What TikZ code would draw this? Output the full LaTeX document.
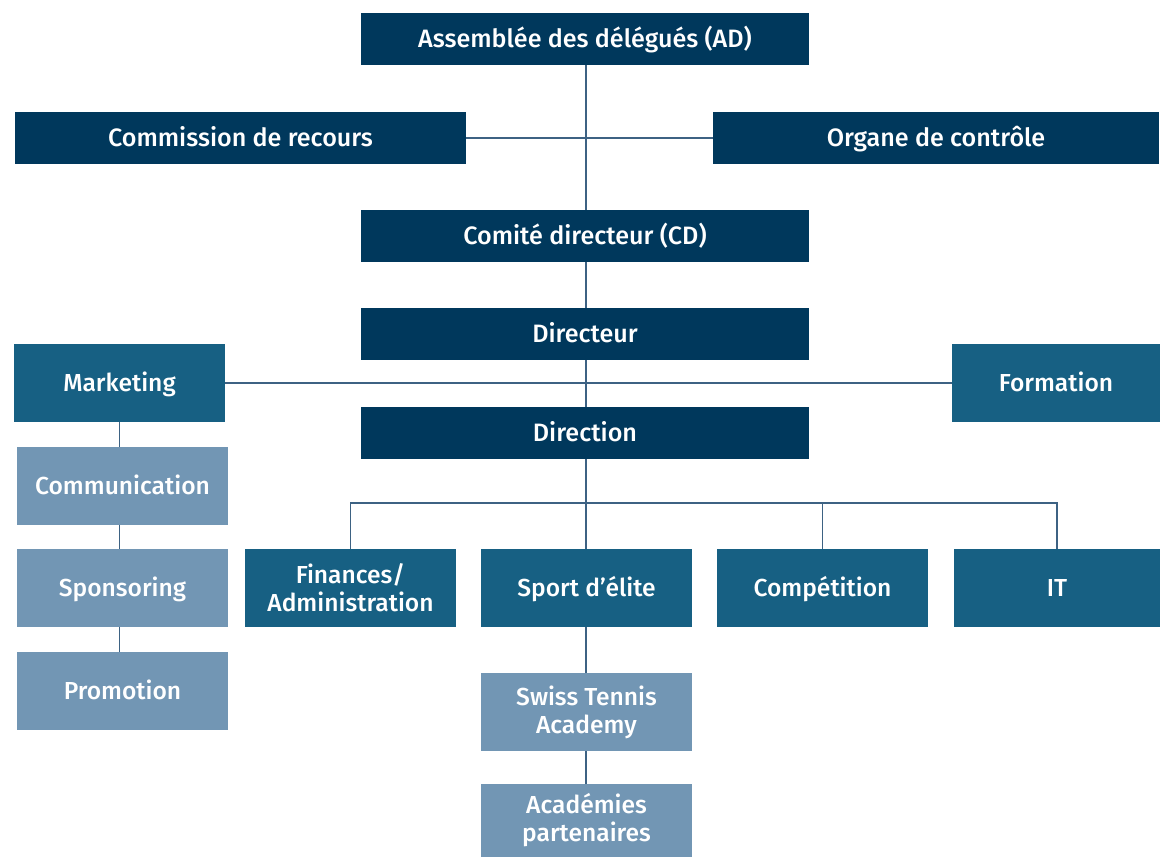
\documentclass[tikz,border=0pt]{standalone}
\usepackage{fontspec}
\setmainfont{Fira Sans}[BoldFont={Fira Sans Medium}]
\usepackage{tikz}
\usetikzlibrary{positioning,calc}
\definecolor{navy}{HTML}{00385C}
\definecolor{deepteal}{HTML}{176083}
\definecolor{softblue}{HTML}{7296B4}
\definecolor{linkgrey}{HTML}{3D6283}
\tikzset{
  topbox/.style  = {fill=navy, text=white, align=center, inner sep=2pt,
                    minimum width=8.96cm, minimum height=1.04cm, font=\fontsize{14.3}{16}\selectfont\bfseries,
                    text height=12pt, text depth=2.2pt},
  unitbox/.style = {fill=deepteal, text=white, align=center, inner sep=2pt,
                    minimum width=4.22cm, minimum height=1.56cm, font=\fontsize{14}{16}\selectfont\bfseries},
  subbox/.style  = {fill=softblue, text=white, align=center, inner sep=2pt,
                    minimum width=4.22cm, minimum height=1.56cm, font=\fontsize{14}{16}\selectfont\bfseries},
  oneline/.style = {text height=12pt, text depth=2.2pt},
  link/.style    = {draw=linkgrey, line width=0.8pt},
}
\begin{document}
\begin{tikzpicture}[x=0.02cm,y=-0.02cm]
    \useasboundingbox (0,0) rectangle (1160,857);
    % upper levels
    \node[topbox] (ad) at (585,39) {Assemblée des délégués (AD)};
    \node[topbox,minimum width=9.02cm] (cr) at (240.5,138) {Commission de recours};
    \node[topbox,minimum width=8.92cm] (oc) at (936,138) {Organe de contrôle};
    \node[topbox] (cd) at (585,236) {Comité directeur (CD)};
    \node[topbox] (dir) at (585,334) {Directeur};
    \node[topbox] (direc) at (585,433) {Direction};
    \node[unitbox,oneline] (mkt) at (119.5,383) {Marketing};
    \node[unitbox,oneline,minimum width=4.16cm] (form) at (1056,383) {Formation};
    % departments
    \node[unitbox] (fin) at (350.5,588) {Finances/\\Administration};
    \node[unitbox,oneline] (sport) at (586.5,588) {Sport d’élite};
    \node[unitbox,oneline] (comp) at (822.5,588) {Compétition};
    \node[unitbox,oneline,minimum width=4.12cm] (it) at (1057,588) {IT};
    \node[subbox,oneline] (comm) at (122.5,486) {Communication};
    \node[subbox,oneline] (spon) at (122.5,588) {Sponsoring};
    \node[subbox,oneline] (promo) at (122.5,691) {Promotion};
    \node[subbox] (sta) at (586.5,712) {Swiss Tennis\\Academy};
    \node[subbox,minimum height=1.46cm] (acp) at (586.5,820.5) {Académies\\partenaires};
    \coordinate (bus) at (586,503);
    % connectors
    \draw[link] (cr.east) -- (oc.west);
    \draw[link] (mkt.east) -- (form.west);
    \draw[link] (ad.south -| bus) -- (cd.north -| bus);
    \draw[link] (cd.south -| bus) -- (dir.north -| bus);
    \draw[link] (dir.south -| bus) -- (direc.north -| bus);
    \draw[link] (direc.south -| bus) -- (bus) -- (sport.north -| bus);
    \draw[link] (fin.north) |- (bus) -| (it.north);
    \draw[link] (comp.north) -- (comp.north |- bus);
    \draw[link] (mkt.south) -- (mkt.south |- comm.north);
    \draw[link] (mkt.south |- comm.south) -- (mkt.south |- spon.north);
    \draw[link] (mkt.south |- spon.south) -- (mkt.south |- promo.north);
    \draw[link] (sport.south -| bus) -- (sta.north -| bus);
    \draw[link] (sta.south -| bus) -- (acp.north -| bus);
\end{tikzpicture}
\end{document}
